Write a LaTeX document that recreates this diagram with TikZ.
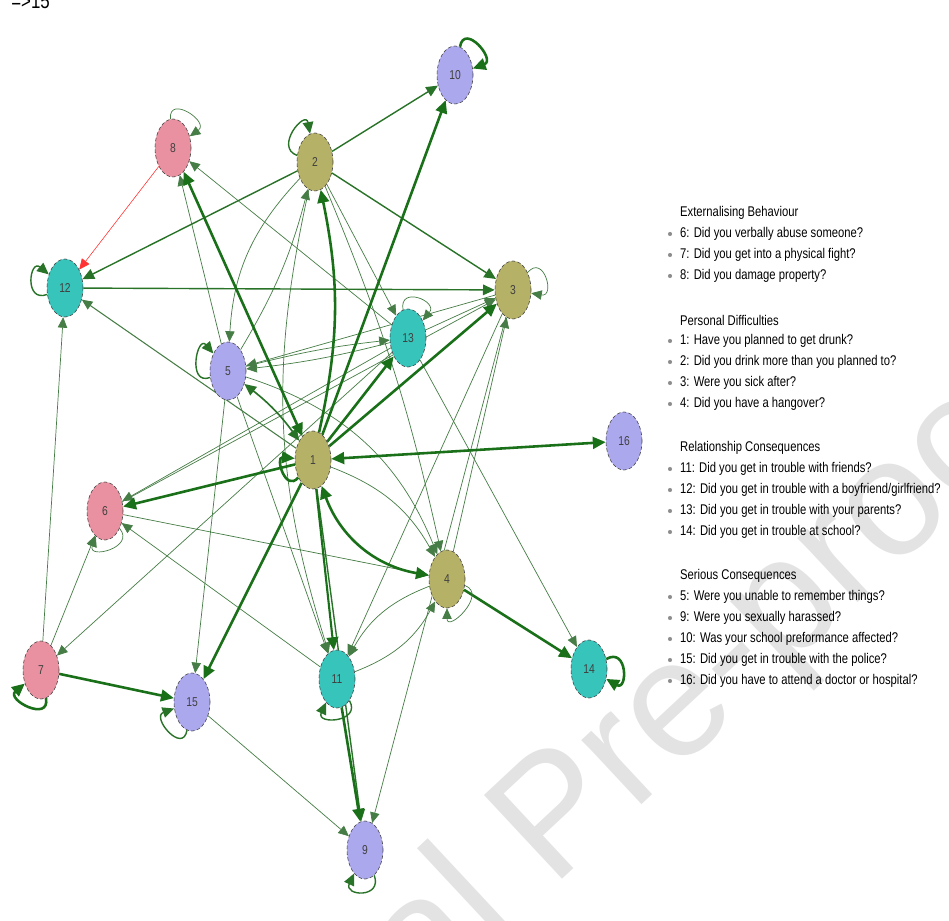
\documentclass[tikz,border=0pt]{standalone}
\usepackage{fontspec}
\setmainfont{Liberation Sans}
\newfontfamily\narrowfont[FakeStretch=0.8]{Liberation Sans}
\usetikzlibrary{arrows.meta,shapes.geometric}
\definecolor{olv}{RGB}{181,177,102}
\definecolor{pnk}{RGB}{233,145,160}
\definecolor{tea}{RGB}{55,196,186}
\definecolor{lav}{RGB}{172,168,238}
\definecolor{gdk}{RGB}{25,112,25}
\definecolor{gmd}{RGB}{40,115,40}
\definecolor{gth}{RGB}{70,125,70}
\pgfdeclarelayer{wm}
\pgfdeclarelayer{bg}
\pgfsetlayers{wm,bg,main}
\tikzset{
  nd/.style={ellipse, draw=black!75, densely dashed, line width=0.5pt,
    minimum width=1.08cm, minimum height=1.74cm, inner sep=0pt,
    font=\narrowfont\fontsize{11pt}{11pt}\selectfont, text=black!75},
  e1/.style={draw=gth, line width=0.6pt, -{Triangle[length=9pt,width=8pt]}},
  e2/.style={draw=gmd, line width=1.2pt, -{Triangle[length=10pt,width=9pt]}},
  e3/.style={draw=gdk, line width=2.2pt, -{Triangle[length=11pt,width=10pt]}},
  b2/.style={draw=gmd, line width=1.4pt, {Triangle[length=10pt,width=9pt]}-{Triangle[length=10pt,width=9pt]}},
  b3/.style={draw=gdk, line width=2.2pt, {Triangle[length=11pt,width=10pt]}-{Triangle[length=11pt,width=10pt]}},
  lp/.style={min distance=0.75cm},
  leg/.style={anchor=west, inner sep=0pt, font=\narrowfont\fontsize{12pt}{12pt}\selectfont, text=black},
  bul/.style={circle, fill=black!45, inner sep=0pt, minimum size=3.5pt}
}
\begin{document}
\begin{tikzpicture}[x=0.03cm,y=0.03cm]
\path[use as bounding box] (0,0) rectangle (949,920);

\begin{pgfonlayer}{wm}
\fill[white] (0,0) rectangle (949,920);
\node[rotate=43, anchor=base east, inner sep=0pt, text=black!11,
  font=\fontsize{142pt}{142pt}\selectfont] (wmk) at (1060,505) {Journal Pre-proof};
\end{pgfonlayer}

\node[anchor=base east, inner sep=0pt, font=\narrowfont\fontsize{18pt}{18pt}\selectfont] (top) at (50,911) {=>15};

% nodes
\node[nd,fill=olv] (n1) at (313,460) {1};
\node[nd,fill=olv] (n2) at (315,758) {2};
\node[nd,fill=olv] (n3) at (513,630) {3};
\node[nd,fill=olv] (n4) at (447,341) {4};
\node[nd,fill=lav] (n5) at (228,549) {5};
\node[nd,fill=pnk] (n6) at (105,409) {6};
\node[nd,fill=pnk] (n7) at (41,250) {7};
\node[nd,fill=pnk] (n8) at (173,772) {8};
\node[nd,fill=lav] (n9) at (365,70) {9};
\node[nd,fill=lav] (n10) at (455,845) {10};
\node[nd,fill=tea] (n11) at (337,241) {11};
\node[nd,fill=tea] (n12) at (65,632) {12};
\node[nd,fill=tea] (n13) at (408,582) {13};
\node[nd,fill=tea] (n14) at (589,251) {14};
\node[nd,fill=lav] (n15) at (192,218) {15};
\node[nd,fill=lav] (n16) at (624,479) {16};

\begin{pgfonlayer}{bg}
% thin edges
\draw[e1, draw=red!80, line width=0.5pt] (n8) -- (n12);
\draw[e1] (n7) -- (n12);
\draw[e1] (n2) -- (n13);
\draw[e1] (n13) -- (n8);
\draw[e1] (n2) to[bend right=20] (n5);
\draw[e1] (n5) to[bend right=8] (n2);
\draw[e1] (n2) to[bend left=5] (n4);
\draw[e1] (n2) to[bend right=15] (n11);
\draw[e1] (n5) to[bend left=4] (n13);
\draw[e1] (n13) to[bend left=4] (n5);
\draw[e1] (n3) -- (n5);
\draw[e1] (n13) -- (n3);
\draw[e1] (n13) -- (n6);
\draw[e1] (n6) -- (n3);
\draw[e1] (n13) -- (n14);
\draw[e1] (n13) -- (n7);
\draw[e1] (n6) -- (n4);
\draw[e1] (n11) -- (n6);
\draw[e1] (n11) to[bend right=20] (n4);
\draw[e1] (n4) to[bend right=20] (n11);
\draw[e1] (n3) -- (n11);
\draw[e1] (n4) -- (n3);
\draw[e1] (n3) -- (n9);
\draw[e1] (n5) -- (n15);
\draw[e1] (n15) -- (n9);
\draw[e1] (n7) -- (n6);
\draw[e1] (n5) -- (n8);
\draw[e1] (n5) to[bend left=25] (n4);
\draw[e1] (n5) -- (n11);
\draw[e1] (n1) to[bend left=20] (n4);
\draw[e1, line width=0.9pt] (n1) -- (n12);
% medium edges
\draw[e2] (n12) -- (n3);
\draw[e2] (n2) -- (n12);
\draw[e2] (n2) -- (n10);
\draw[e2] (n2) -- (n3);
\draw[e2] (n1) -- (n9);
\draw[b2] (n5) to[bend left=8] (n1);
% thick edges
\draw[b3] (n8) -- (n1);
\draw[e3] (n1) -- (n3);
\draw[e3] (n1) -- (n13);
\draw[e3] (n1) -- (n10);
\draw[e3] (n1) to[bend right=12] (n2);
\draw[b3] (n1) -- (n16);
\draw[e3] (n1) -- (n6);
\draw[e3] (n1) -- (n15);
\draw[b3] (n1) to[bend right=30] (n4);
\draw[e3] (n4) -- (n14);
\draw[e3] (n7) -- (n15);
\draw[e3, line width=1.8pt] (n1) -- (n11);
\draw[e3] (n11) -- (n9);
% self loops
\draw[e1] (n8) to[out=95,in=35,lp] (n8);
\draw[e2] (n2) to[out=160,in=100,lp] (n2);
\draw[e3] (n10) to[out=80,in=20,lp] (n10);
\draw[e2] (n12) to[out=200,in=140,lp] (n12);
\draw[e1] (n3) to[out=50,in=-10,lp] (n3);
\draw[e1] (n13) to[out=100,in=50,lp] (n13);
\draw[e2] (n5) to[out=200,in=130,lp] (n5);
\draw[e3] (n1) to[out=230,in=175,min distance=0.6cm] (n1);
\draw[e1] (n6) to[out=-50,in=-110,lp] (n6);
\draw[e1] (n4) to[out=-20,in=-90,lp] (n4);
\draw[e3] (n14) to[out=30,in=-30,lp] (n14);
\draw[e3] (n7) to[out=-80,in=-140,lp] (n7);
\draw[e2] (n15) to[out=-100,in=-160,lp] (n15);
\draw[e2] (n11) to[out=-60,in=-115,lp] (n11);
\draw[e2] (n9) to[out=-70,in=-115,lp] (n9);
\end{pgfonlayer}

% legend
\node[leg] (h1) at (680,707) {Externalising Behaviour};
\node[leg] (l6) at (680,686) {6: Did you verbally abuse someone?};
\node[leg] (l7) at (680,665) {7: Did you get into a physical fight?};
\node[leg] (l8) at (680,644) {8: Did you damage property?};
\node[leg] (h2) at (680,600) {Personal Difficulties};
\node[leg] (l1) at (680,579) {1: Have you planned to get drunk?};
\node[leg] (l2) at (680,558) {2: Did you drink more than you planned to?};
\node[leg] (l3) at (680,537) {3: Were you sick after?};
\node[leg] (l4) at (680,516) {4: Did you have a hangover?};
\node[leg] (h3) at (680,472) {Relationship Consequences};
\node[leg] (l11) at (680,451) {11: Did you get in trouble with friends?};
\node[leg] (l12) at (680,430) {12: Did you get in trouble with a boyfriend/girlfriend?};
\node[leg] (l13) at (680,409) {13: Did you get in trouble with your parents?};
\node[leg] (l14) at (680,388) {14: Did you get in trouble at school?};
\node[leg] (h4) at (680,344) {Serious Consequences};
\node[leg] (l5) at (680,323) {5: Were you unable to remember things?};
\node[leg] (l9) at (680,302) {9: Were you sexually harassed?};
\node[leg] (l10) at (680,281) {10: Was your school preformance affected?};
\node[leg] (l15) at (680,260) {15: Did you get in trouble with the police?};
\node[leg] (l16) at (680,239) {16: Did you have to attend a doctor or hospital?};
\foreach \y/\nm in {686/a,665/b,644/c,579/d,558/e,537/f,516/g,451/h,430/i,409/j,388/k,323/l,302/m,281/n,260/o,239/p}
  \node[bul] (b\nm) at (670,\y) {};
\end{tikzpicture}
\end{document}
